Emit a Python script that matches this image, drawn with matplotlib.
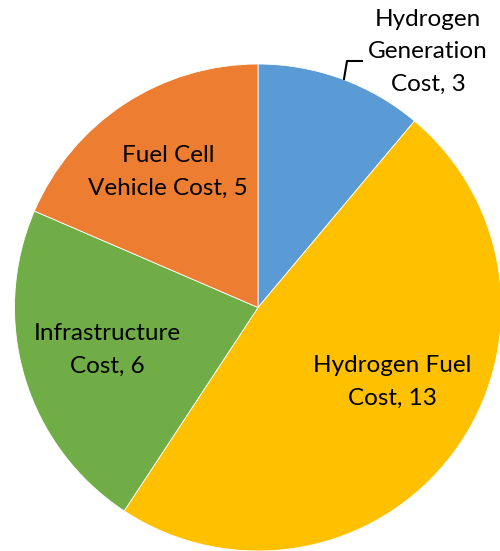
import matplotlib.pyplot as plt

# slice data (clockwise from 12 o'clock)
categories = ["Hydrogen\nGeneration\nCost", "Hydrogen Fuel\nCost", "Infrastructure\nCost", "Fuel Cell\nVehicle Cost"]
values = [3, 13, 6, 5]
colors = ["#5B9BD5", "#FFC000", "#70AD47", "#ED7D31"]

# label centres in pixel coords (y measured from top)
label_pos = [(428, 52), (392, 382), (107, 350), (168, 172)]

W, H = 500, 551
fig = plt.figure(figsize=(W / 100, H / 100), dpi=100)
ax = fig.add_axes([0, 0, 1, 1])

cx, cy, r = 258, 307.5, 243.5
ax.pie(values, colors=colors, startangle=90, counterclock=False,
       center=(cx, H - cy), radius=r,
       wedgeprops=dict(edgecolor="white", linewidth=0.6))

for name, v, (x, y) in zip(categories, values, label_pos):
    ax.text(x, H - y, f"{name}, {v}", ha="center", va="center",
            fontsize=17.5, family="Lato", linespacing=1.68, color="black")

# leader line for the small slice
ax.plot([344, 347, 362], [H - 79, H - 61, H - 61], color="black", lw=1.5)

ax.set_xlim(0, W)
ax.set_ylim(0, H)
ax.set_aspect("equal")
ax.axis("off")

fig.savefig("out.png", dpi=100)
